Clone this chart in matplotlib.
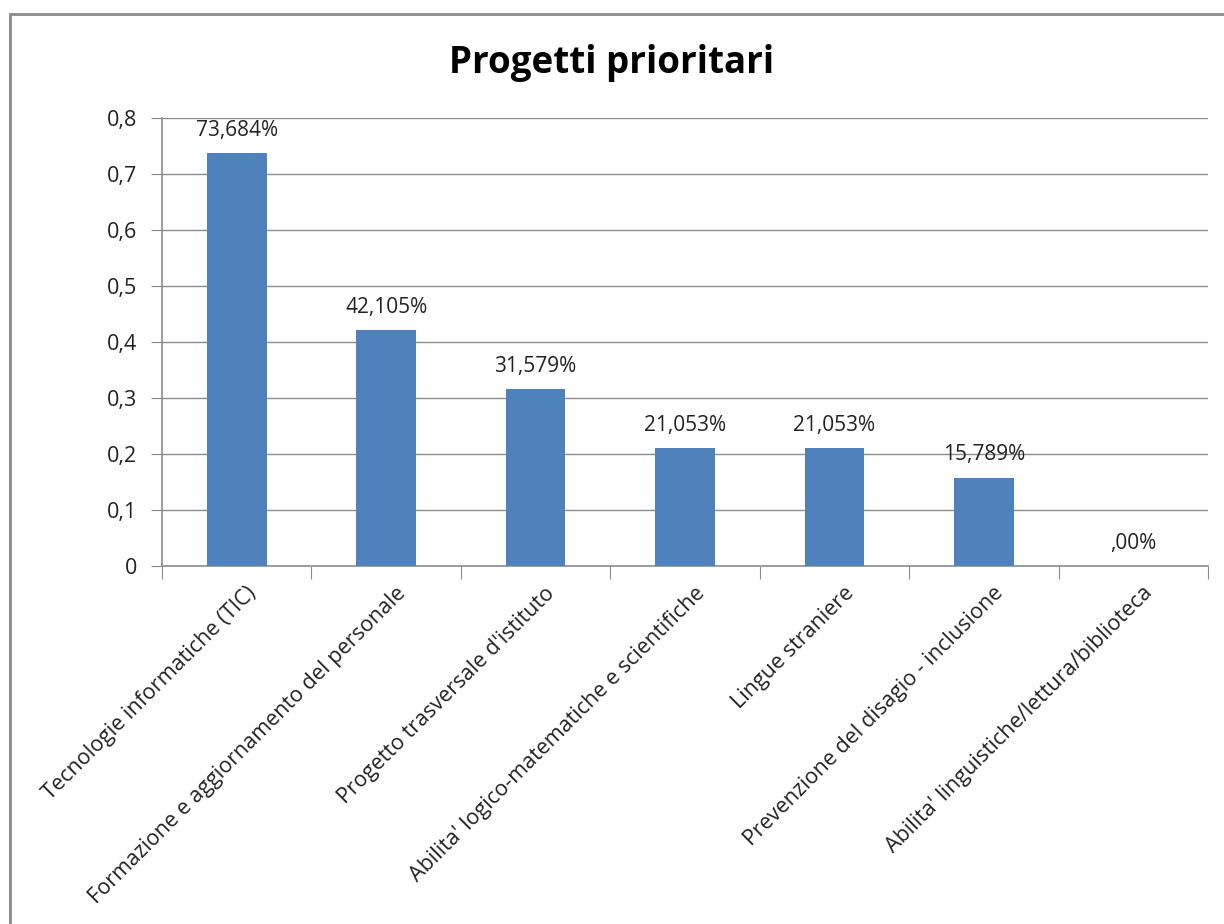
import matplotlib.pyplot as plt
from matplotlib.patches import Rectangle

FONT = ['Open Sans', 'DejaVu Sans']
BLUE = '#4F81BD'; GRID = '#8C8C8C'; DARK = '#222222'

categorie = ["Tecnologie informatiche (TIC)",
             "Formazione e aggiornamento del personale",
             "Progetto trasversale d'istituto",
             "Abilita' logico-matematiche e scientifiche",
             "Lingue straniere",
             "Prevenzione del disagio - inclusione",
             "Abilita' linguistiche/lettura/biblioteca"]
valori = [0.73684, 0.42105, 0.31579, 0.21053, 0.21053, 0.15789, 0.0]
etichette = ['73,684%', '42,105%', '31,579%', '21,053%', '21,053%', '15,789%', ',00%']
yticks = [0, 0.1, 0.2, 0.3, 0.4, 0.5, 0.6, 0.7, 0.8]
ytick_labels = ['0', '0,1', '0,2', '0,3', '0,4', '0,5', '0,6', '0,7', '0,8']

plt.rcParams['font.family'] = FONT

fig = plt.figure(figsize=(12.24, 9.24), dpi=100, facecolor='white')
fig.patches.append(Rectangle((10/1224, -0.05), 1.2, 1 - 14/924 + 0.05,
                             transform=fig.transFigure, fill=False,
                             edgecolor='#8A8A8A', lw=2))
ax = fig.add_axes([162/1224, 1 - 566/924, (1208 - 162)/1224, (566 - 118)/924])

x = range(len(categorie))
ax.bar(x, valori, width=0.4, color=BLUE, zorder=3)
for xi, v, lab in zip(x, valori, etichette):
    ax.text(xi, v + 0.022, lab, ha='center', va='bottom', fontsize=15, color=DARK)

ax.set_xlim(-0.5, len(categorie) - 0.5)
ax.set_ylim(0, 0.8)
ax.set_yticks(yticks)
ax.set_yticklabels(ytick_labels, fontsize=15.5, color=DARK)
ax.yaxis.grid(True, color=GRID, lw=1, zorder=0)
ax.set_axisbelow(True)

ax.set_xticks([i + 0.5 for i in range(-1, len(categorie))])
ax.set_xticklabels([])
ax.tick_params(axis='x', length=9, color=GRID, direction='out')
ax.tick_params(axis='y', length=8, color=GRID, direction='out', pad=10)
for xi, c in zip(x, categorie):
    ax.text(xi + 0.06, -0.03, c, rotation=45, ha='right', va='top',
            rotation_mode='anchor', fontsize=15.5, color=DARK)

for sp in ['top', 'right']:
    ax.spines[sp].set_visible(False)
for sp in ['left', 'bottom']:
    ax.spines[sp].set_color(GRID)
    ax.spines[sp].set_linewidth(1.2)

fig.text(0.5, 1 - 63/924, 'Progetti prioritari', ha='center', va='center',
         fontsize=26.5, fontweight='bold', color='black')

plt.savefig('out.png', dpi=100, facecolor='white')
plt.close()
